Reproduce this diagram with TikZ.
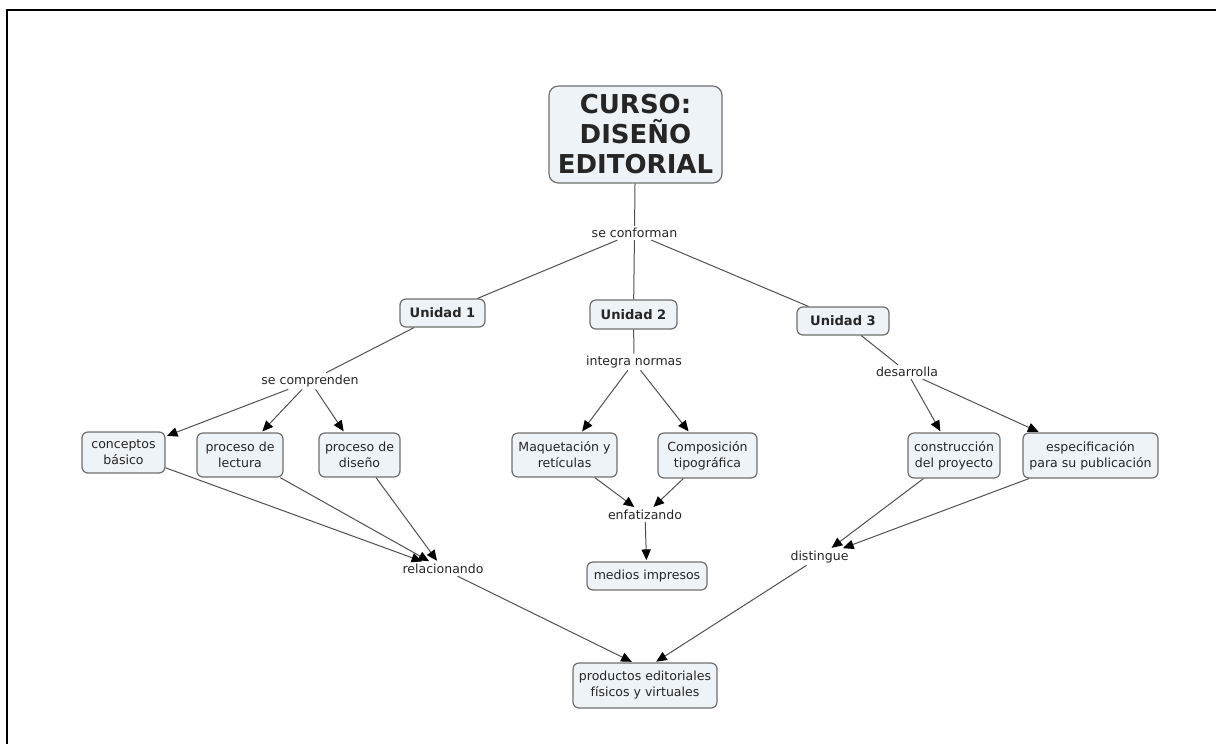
\documentclass[tikz,border=0pt]{standalone}
\usepackage{fontspec}
\setmainfont{DejaVu Sans}
\usetikzlibrary{arrows.meta}
\definecolor{boxfill}{HTML}{EEF3F8}
\definecolor{boxline}{HTML}{6E6E6E}
\definecolor{conn}{HTML}{505050}
\definecolor{txt}{HTML}{262626}
\tikzset{
  cbox/.style 2 args={draw=boxline, fill=boxfill, rounded corners=4.5pt, line width=0.9pt,
    align=center, inner sep=0pt, minimum width=#1*0.75pt, minimum height=#2*0.75pt,
    text=txt, font=\fontsize{9.4}{12}\selectfont},
  unitbox/.style 2 args={cbox={#1}{#2}, font=\bfseries\fontsize{9.8}{11}\selectfont},
  link/.style={inner sep=1.5pt, text=txt, font=\fontsize{9.4}{11}\selectfont},
  conline/.style={draw=conn, line width=0.75pt},
  conarrow/.style={conline, -{Triangle[length=8pt,width=7pt,color=black]}, shorten >=1pt},
}
\begin{document}
\begin{tikzpicture}[x=0.75pt,y=-0.75pt]
\useasboundingbox (0,0) rectangle (1216,743);
\draw[line width=1.5pt] (1217,10) -- (7,10) -- (7,744);

% nodes
\node[cbox={173}{97}, rounded corners=7pt, font=\bfseries\fontsize{19.5}{22.5}\selectfont] (title) at (635.5,134.5) {CURSO:\\DISEÑO\\EDITORIAL};
\node[link] (conf) at (634.5,233) {se conforman};

\node[unitbox={85}{28}] (u1) at (442.5,313) {Unidad 1};
\node[unitbox={87}{29}] (u2) at (633.5,314.5) {Unidad 2};
\node[unitbox={92}{28}] (u3) at (843,321) {Unidad 3};

\node[link] (comp) at (310,381) {se comprenden};
\node[link] (integ) at (634,362) {integra normas};
\node[link] (desa) at (907,372) {desarrolla};

\node[cbox={83}{41}] (c1) at (123.5,452.5) {conceptos\\básico};
\node[cbox={86}{44}] (c2) at (240,455) {proceso de\\lectura};
\node[cbox={81}{44}] (c3) at (359.5,455) {proceso de\\diseño};

\node[cbox={105}{44}] (m1) at (564.5,455) {Maquetación y\\retículas};
\node[cbox={99}{45}] (m2) at (707.5,455.5) {Composición\\tipográfica};

\node[cbox={92}{45}] (d1) at (954,455.5) {construcción\\del proyecto};
\node[cbox={135}{45}] (d2) at (1090.5,455.5) {especificación\\para su publicación};

\node[link] (enf) at (645,515) {enfatizando};
\node[cbox={120}{28}] (med) at (647,576) {medios impresos};

\node[link] (rel) at (443,569) {relacionando};
\node[link] (dist) at (819.5,557) {distingue};

\node[cbox={144}{45}] (prod) at (645,685.5) {productos editoriales\\físicos y virtuales};

% connectors
\draw[conline] (title) -- (conf);
\draw[conline] (conf) -- (u1);
\draw[conline] (conf) -- (u2);
\draw[conline] (conf) -- (u3);

\draw[conline] (u1) -- (comp);
\draw[conline] (u2) -- (integ);
\draw[conline] (u3) -- (desa);

\draw[conarrow] (comp) -- (c1);
\draw[conarrow] (comp) -- (c2);
\draw[conarrow] (comp) -- (c3);

\draw[conarrow] (integ) -- (m1);
\draw[conarrow] (integ) -- (m2);

\draw[conarrow] (desa) -- (d1);
\draw[conarrow] (desa) -- (d2);

\draw[conarrow] (c1) -- (rel);
\draw[conarrow] (c2) -- (rel);
\draw[conarrow] (c3) -- (rel);

\draw[conarrow] (m1) -- (enf);
\draw[conarrow] (m2) -- (enf);
\draw[conarrow] (enf) -- (med);

\draw[conarrow] (d1) -- (dist);
\draw[conarrow] (d2) -- (dist);

\draw[conarrow] (rel) -- ([xshift=-9pt]prod.north);
\draw[conarrow] (dist) -- ([xshift=7.5pt]prod.north);
\end{tikzpicture}
\end{document}
